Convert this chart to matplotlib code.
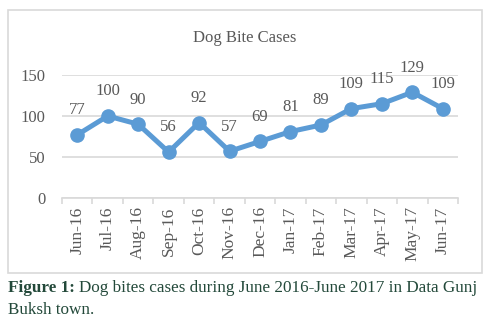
import matplotlib
matplotlib.use("Agg")
import matplotlib.pyplot as plt
from matplotlib.patches import Rectangle
import numpy as np

months = ["Jun-16", "Jul-16", "Aug-16", "Sep-16", "Oct-16", "Nov-16", "Dec-16",
          "Jan-17", "Feb-17", "Mar-17", "Apr-17", "May-17", "Jun-17"]
cases = [77, 100, 90, 56, 92, 57, 69, 81, 89, 109, 115, 129, 109]
y_ticks = [0, 50, 100, 150]

W, H = 489, 327
plt.rcParams["font.family"] = ["Liberation Serif", "DejaVu Serif"]
fig = plt.figure(figsize=(W / 100, H / 100), dpi=100)

text_gray = "#595959"
grid_gray = "#D9D9D9"
line_blue = "#5B9BD5"
caption_green = "#23493A"

# chart frame
fig.patches.append(Rectangle((8 / W, 1 - 273 / H), (482 - 8) / W, (273 - 10) / H,
                             transform=fig.transFigure, fill=False,
                             edgecolor=grid_gray, lw=1.2))

ax = fig.add_axes([62 / W, 1 - 198 / H, 396 / W, (198 - 75) / H])
x = np.arange(len(months))
ax.plot(x, cases, color=line_blue, lw=3.6, marker="o", ms=9.5,
        solid_capstyle="round", solid_joinstyle="round", zorder=3)
for xi, v in zip(x, cases):
    ax.annotate(str(v), (xi, v), xytext=(0, 12), textcoords="offset points",
                ha="center", va="bottom", fontsize=12, color=text_gray,
                annotation_clip=False)

ax.set_xlim(-0.5, len(months) - 0.5)
ax.set_ylim(0, 150)
ax.set_yticks(y_ticks)
ax.set_yticklabels([str(t) for t in y_ticks], fontsize=12, color=text_gray)
ax.yaxis.grid(True, color=grid_gray, lw=1.2)
ax.set_axisbelow(True)
ax.tick_params(axis="y", length=0, pad=12)

ax.set_xticks(x)
ax.set_xticklabels(months, rotation=90, fontsize=12.5, color=text_gray)
ax.set_xticks(np.arange(-0.5, len(months)), minor=True)
ax.tick_params(axis="x", which="major", length=0, pad=6)
ax.tick_params(axis="x", which="minor", length=4, color=grid_gray, width=1.2)

for s in ["top", "right", "left"]:
    ax.spines[s].set_visible(False)
ax.spines["bottom"].set_color(grid_gray)
ax.spines["bottom"].set_linewidth(1.2)

fig.text(245 / W, 1 - 38 / H, "Dog Bite Cases", ha="center", va="center",
         fontsize=12, color=text_gray)

# caption below the chart
cap_size = 12.3
cap_y = 1 - 288 / H
t1 = fig.text(8 / W, cap_y, "Figure 1:", fontsize=cap_size, fontweight="bold",
              color=caption_green, va="center")
fig.canvas.draw()
bb = t1.get_window_extent()
fig.text(bb.x1 / W + 4 / W, cap_y,
         "Dog bites cases during June 2016-June 2017 in Data Gunj",
         fontsize=cap_size, color=caption_green, va="center")
fig.text(8 / W, 1 - 310 / H, "Buksh town.", fontsize=cap_size,
         color=caption_green, va="center")

fig.savefig("out.png", dpi=100)
